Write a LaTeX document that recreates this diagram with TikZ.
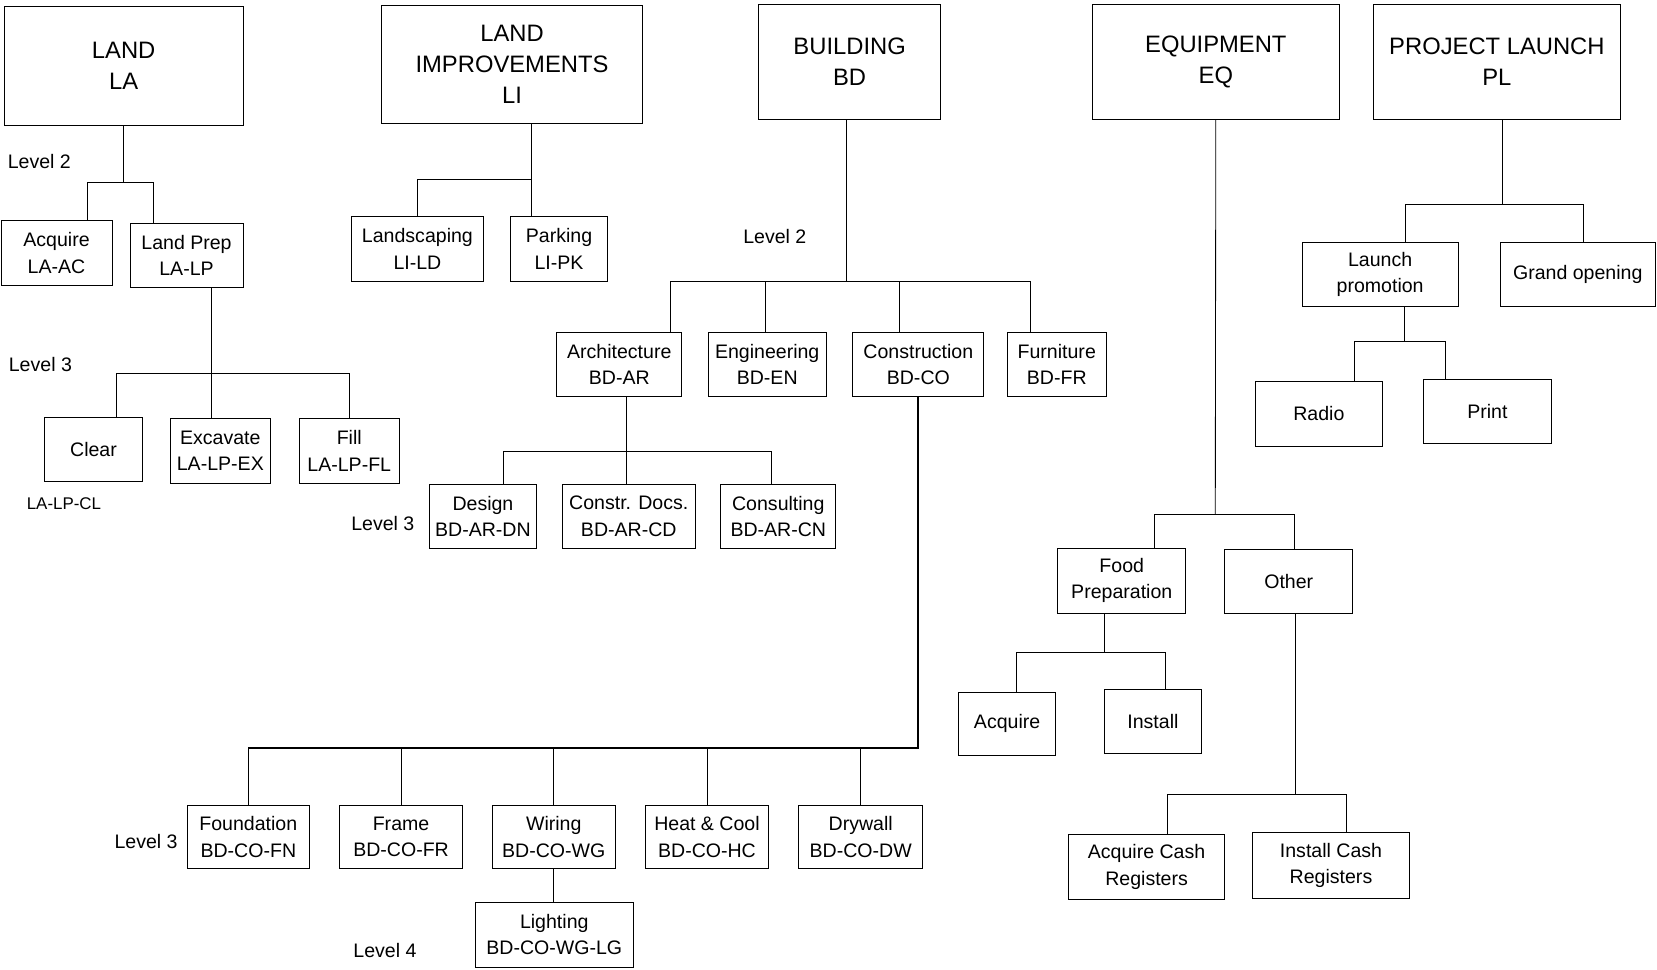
\documentclass[tikz,border=0pt]{standalone}
\usepackage{fontspec}
\setmainfont{Liberation Sans}
\tikzset{
  wbs/.style={draw, line width=.8pt, inner sep=0pt, align=center,
    font=\fontsize{18.5}{25}\selectfont},
  topbox/.style={wbs, font=\fontsize{22.5}{29}\selectfont},
  lvl/.style={anchor=west, inner sep=0pt, font=\fontsize{18.5}{25}\selectfont},
  heavy/.style={line width=1.7pt}
}
\begin{document}
\begin{tikzpicture}[x=1pt,y=-1pt,line width=.8pt]
    \useasboundingbox (0,0) rectangle (1568,917);
    % level 1
    \node[topbox, minimum width=226, minimum height=113] (la) at (117,62.5) {LAND\\LA};
    \node[topbox, minimum width=247, minimum height=112] (li) at (484.5,61) {LAND\\IMPROVEMENTS\\LI};
    \node[topbox, minimum width=172, minimum height=109] (bd) at (804,58.5) {BUILDING\\BD};
    \node[topbox, minimum width=233, minimum height=109] (eq) at (1150.5,58.5) {EQUIPMENT\\EQ};
    \node[topbox, minimum width=233, minimum height=109] (pl) at (1416.5,58.5) {PROJECT LAUNCH\\PL};

    % land
    \node[lvl] (lvla2) at (7,153) {Level 2};
    \node[lvl] (lvla3) at (8,345) {Level 3};
    \node[wbs, minimum width=105, minimum height=61] (ac) at (53.5,239.5) {Acquire\\LA-AC};
    \node[wbs, minimum width=107, minimum height=61] (lp) at (176.5,241.5) {Land Prep\\LA-LP};
    \node[wbs, minimum width=93, minimum height=61] (cl) at (88.5,425.5) {Clear};
    \node[anchor=west, inner sep=0pt, font=\fontsize{16}{20}\selectfont] (clcode) at (25,477) {LA-LP-CL};
    \node[wbs, minimum width=95, minimum height=61] (ex) at (208.5,426.5) {Excavate\\LA-LP-EX};
    \node[wbs, minimum width=95, minimum height=61] (fl) at (330.5,426.5) {Fill\\LA-LP-FL};
    \coordinate (la-j) at (117,173);
    \draw (la.south) -- (la-j);
    \draw ([xshift=29.5]ac.north) |- (la-j) -| ([xshift=-31.5]lp.north);
    \coordinate (lp-j) at (200,353);
    \draw ([xshift=23.5]lp.south) -- ([xshift=-8.5]ex.north);
    \draw ([xshift=21.5]cl.north) |- (lp-j) -| (fl.north);

    % land improvements
    \node[wbs, minimum width=124, minimum height=61] (ld) at (395,235.5) {Landscaping\\LI-LD};
    \node[wbs, minimum width=92, minimum height=61] (pk) at (529,235.5) {Parking\\LI-PK};
    \coordinate (li-j) at (503,170);
    \draw ([xshift=18.5]li.south) -- ([xshift=-26]pk.north);
    \draw (ld.north) |- (li-j);

    % building
    \node[lvl] (lvlb2) at (703,224) {Level 2};
    \node[wbs, minimum width=118, minimum height=60] (ar) at (586,345) {Architecture\\BD-AR};
    \node[wbs, minimum width=112, minimum height=60] (en) at (726,345) {Engineering\\BD-EN};
    \node[wbs, minimum width=124, minimum height=60] (co) at (869,345) {Construction\\BD-CO};
    \node[wbs, minimum width=94, minimum height=60] (fr) at (1000,345) {Furniture\\BD-FR};
    \coordinate (bd-j) at (801,266);
    \draw ([xshift=-3]bd.south) -- (bd-j);
    \draw ([xshift=48]ar.north) |- (bd-j) -| ([xshift=-25]fr.north);
    \draw ([xshift=-2]en.north) |- (bd-j);
    \draw ([xshift=-18]co.north) |- (bd-j);

    \node[lvl] (lvlb3) at (332,495) {Level 3};
    \node[wbs, minimum width=102, minimum height=61] (dn) at (457,488.5) {Design\\BD-AR-DN};
    \node[wbs, minimum width=126, minimum height=61] (cd) at (595,488.5) {Constr. Docs.\\BD-AR-CD};
    \node[wbs, minimum width=109, minimum height=61] (cn) at (736.5,488.5) {Consulting\\BD-AR-CN};
    \coordinate (ar-j) at (593,427);
    \draw ([xshift=7]ar.south) -- ([xshift=-2]cd.north);
    \draw ([xshift=19]dn.north) |- (ar-j) -| ([xshift=-6.5]cn.north);

    \node[lvl] (lvlc3) at (108,796) {Level 3};
    \node[wbs, minimum width=116, minimum height=60] (fn) at (235,792) {Foundation\\BD-CO-FN};
    \node[wbs, minimum width=117, minimum height=60] (frm) at (379.5,792) {Frame\\BD-CO-FR};
    \node[wbs, minimum width=116, minimum height=60] (wg) at (524,792) {Wiring\\BD-CO-WG};
    \node[wbs, minimum width=116, minimum height=60] (hc) at (669,792) {Heat \& Cool\\BD-CO-HC};
    \node[wbs, minimum width=117, minimum height=60] (dw) at (814.5,792) {Drywall\\BD-CO-DW};
    \coordinate (co-j) at (869,708);
    \draw[heavy] (co.south) -- (co-j) -- (fn.north |- co-j);
    \foreach \n in {fn,frm,wg,hc,dw}
      \draw (\n.north) -- (\n.north |- co-j);

    \node[lvl] (lvlc4) at (334,899) {Level 4};
    \node[wbs, minimum width=149, minimum height=61] (lg) at (524.5,884.5) {Lighting\\BD-CO-WG-LG};
    \draw (wg.south) -- (wg.south |- lg.north);

    % equipment
    \node[wbs, minimum width=121, minimum height=61] (fp) at (1061.5,549.5) {Food\\Preparation};
    \node[wbs, minimum width=121, minimum height=60] (ot) at (1219.5,550) {Other};
    \coordinate (eq-j) at (1150,487);
    \draw (eq.south) -- (eq-j);
    \draw ([xshift=30.5]fp.north) |- (eq-j) -| ([xshift=5.5]ot.north);

    \node[wbs, minimum width=92, minimum height=60] (aq) at (953,685) {Acquire};
    \node[wbs, minimum width=92, minimum height=61] (ins) at (1091,682.5) {Install};
    \coordinate (fp-j) at (1045,617);
    \draw ([xshift=-16.5]fp.south) -- (fp-j);
    \draw ([xshift=9]aq.north) |- (fp-j) -| ([xshift=12]ins.north);

    \node[wbs, minimum width=148, minimum height=61] (acr) at (1085,820.5) {Acquire Cash\\Registers};
    \node[wbs, minimum width=149, minimum height=62] (icr) at (1259.5,819) {Install Cash\\Registers};
    \coordinate (ot-j) at (1226,752);
    \draw ([xshift=6.5]ot.south) -- (ot-j);
    \draw ([xshift=20]acr.north) |- (ot-j) -| ([xshift=14.5]icr.north);

    % project launch
    \node[wbs, minimum width=148, minimum height=61] (lpr) at (1306,259.5) {Launch\\promotion};
    \node[wbs, minimum width=147, minimum height=61] (go) at (1493,259.5) {Grand opening};
    \coordinate (pl-j) at (1422,193);
    \draw ([xshift=5.5]pl.south) -- (pl-j);
    \draw ([xshift=24]lpr.north) |- (pl-j) -| ([xshift=5]go.north);

    \node[wbs, minimum width=120, minimum height=61] (ra) at (1248,391.5) {Radio};
    \node[wbs, minimum width=121, minimum height=61] (pr) at (1407.5,389.5) {Print};
    \coordinate (lpr-j) at (1329,323);
    \draw ([xshift=23]lpr.south) -- (lpr-j);
    \draw ([xshift=34]ra.north) |- (lpr-j) -| ([xshift=-39.5]pr.north);
  \end{tikzpicture}
\end{document}
